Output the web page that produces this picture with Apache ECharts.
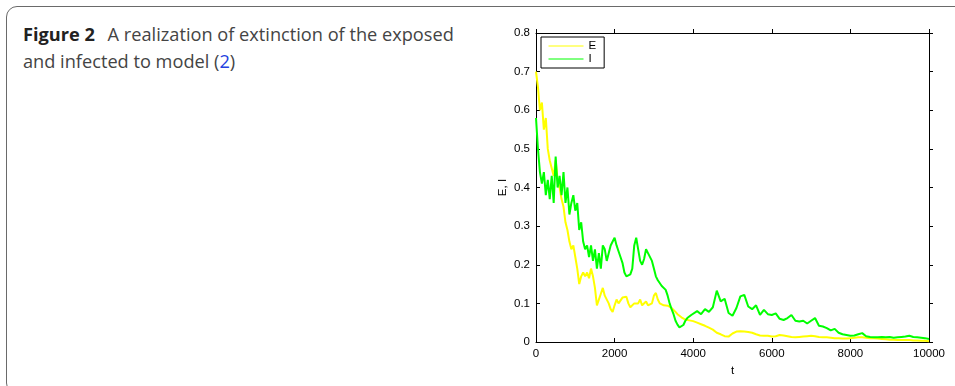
<!DOCTYPE html>
<html>
<head>
<meta charset="utf-8">
<script src="https://cdn.jsdelivr.net/npm/echarts@6/dist/echarts.min.js"></script>
<style>
    html, body { margin: 0; padding: 0; background: #fff; overflow: hidden; }
    #wrap { position: relative; width: 955px; height: 386px; overflow: hidden; }
    #frame {
        position: absolute; left: 6px; top: 6px; width: 1000px; height: 388px;
        border: 1.5px solid #6a6a6a; border-radius: 11px; box-sizing: border-box;
    }
    #caption {
        position: absolute; left: 23px; top: 21px; width: 450px;
        font-family: "Open Sans", sans-serif; font-size: 18.2px; line-height: 27px;
        color: #444; font-weight: 400;
    }
    #caption b { color: #222; font-weight: 700; margin-right: 8px; }
    #caption a { color: #2441e0; text-decoration: none; }
    #chart { position: absolute; left: 0; top: 0; width: 955px; height: 386px; }
</style>
</head>
<body>
<div id="wrap">
    <div id="frame"></div>
    <div id="caption"><b>Figure 2</b> A realization of extinction of the exposed<br>and infected to model (<a>2</a>)</div>
    <div id="chart"></div>
</div>
<script>
// 时间点
var tValues = [
    0, 50, 100, 150, 200, 250, 300, 350, 400, 450,
    500, 550, 600, 650, 700, 750, 800, 850, 900, 950,
    1000, 1050, 1100, 1150, 1200, 1250, 1300, 1350, 1400, 1450,
    1500, 1550, 1600, 1650, 1700, 1750, 1800, 1850, 1900, 1950,
    2000, 2050, 2100, 2150, 2200, 2250, 2300, 2350, 2400, 2450,
    2500, 2550, 2600, 2650, 2700, 2750, 2800, 2850, 2900, 2950,
    3000, 3050, 3100, 3150, 3200, 3250, 3300, 3350, 3400, 3450,
    3500, 3550, 3600, 3650, 3700, 3750, 3800, 3850, 3900, 3950,
    4000, 4100, 4200, 4300, 4400, 4500, 4600, 4700, 4800, 4900,
    5000, 5100, 5200, 5300, 5400, 5500, 5600, 5700, 5800, 5900,
    6000, 6100, 6200, 6300, 6400, 6500, 6600, 6700, 6800, 6900,
    7000, 7100, 7200, 7300, 7400, 7500, 7600, 7700, 7800, 7900,
    8000, 8100, 8200, 8300, 8400, 8500, 8600, 8700, 8800, 8900,
    9000, 9100, 9200, 9300, 9400, 9500, 9600, 9700, 9800, 9900,
    10000
];
// E (exposed)
var eValues = [
    0.70, 0.66, 0.60, 0.62, 0.55, 0.58, 0.50, 0.47, 0.45, 0.43,
    0.47, 0.42, 0.40, 0.37, 0.35, 0.31, 0.29, 0.26, 0.24, 0.25,
    0.22, 0.19, 0.15, 0.17, 0.18, 0.17, 0.18, 0.165, 0.19, 0.17,
    0.14, 0.095, 0.10, 0.125, 0.14, 0.12, 0.115, 0.10, 0.085, 0.078,
    0.095, 0.11, 0.10, 0.105, 0.115, 0.11, 0.117, 0.10, 0.09, 0.085,
    0.10, 0.105, 0.10, 0.11, 0.095, 0.10, 0.105, 0.095, 0.09, 0.10,
    0.12, 0.127, 0.11, 0.10, 0.098, 0.095, 0.10, 0.094, 0.09, 0.088,
    0.085, 0.078, 0.072, 0.068, 0.064, 0.06, 0.058, 0.057, 0.056, 0.055,
    0.054, 0.050, 0.046, 0.042, 0.037, 0.032, 0.024, 0.020, 0.015, 0.014,
    0.022, 0.027, 0.028, 0.027, 0.026, 0.024, 0.020, 0.017, 0.016, 0.016,
    0.014, 0.015, 0.018, 0.017, 0.015, 0.013, 0.012, 0.013, 0.014, 0.015,
    0.016, 0.015, 0.013, 0.012, 0.012, 0.011, 0.010, 0.010, 0.009, 0.009,
    0.010, 0.011, 0.012, 0.012, 0.011, 0.010, 0.010, 0.009, 0.008, 0.007,
    0.006, 0.006, 0.005, 0.005, 0.005, 0.005, 0.004, 0.004, 0.003, 0.003,
    0.002
];
// I (infected)
var iValues = [
    0.58, 0.50, 0.44, 0.41, 0.44, 0.38, 0.42, 0.37, 0.43, 0.36,
    0.48, 0.40, 0.43, 0.38, 0.44, 0.36, 0.40, 0.33, 0.36, 0.38,
    0.34, 0.36, 0.29, 0.31, 0.26, 0.24, 0.25, 0.22, 0.25, 0.21,
    0.24, 0.19, 0.23, 0.19, 0.25, 0.24, 0.21, 0.23, 0.25, 0.26,
    0.27, 0.25, 0.235, 0.22, 0.205, 0.18, 0.17, 0.168, 0.175, 0.19,
    0.25, 0.27, 0.24, 0.21, 0.20, 0.215, 0.24, 0.23, 0.235, 0.21,
    0.19, 0.17, 0.16, 0.155, 0.145, 0.14, 0.135, 0.12, 0.10, 0.085,
    0.072, 0.055, 0.045, 0.038, 0.040, 0.044, 0.055, 0.062, 0.065, 0.070,
    0.072, 0.080, 0.072, 0.085, 0.078, 0.090, 0.133, 0.105, 0.112, 0.075,
    0.068, 0.088, 0.118, 0.122, 0.092, 0.085, 0.095, 0.070, 0.083, 0.072,
    0.070, 0.074, 0.060, 0.057, 0.062, 0.070, 0.055, 0.053, 0.055, 0.048,
    0.055, 0.062, 0.042, 0.040, 0.036, 0.030, 0.034, 0.024, 0.020, 0.018,
    0.016, 0.017, 0.020, 0.023, 0.015, 0.013, 0.012, 0.012, 0.013, 0.012,
    0.013, 0.011, 0.012, 0.013, 0.014, 0.016, 0.013, 0.012, 0.011, 0.010,
    0.008
];
var seriesNames = ['E', 'I'];
var seriesColors = ['#ffff00', '#00ff00'];

initChart();

function pairs(xs, ys) {
    var out = [];
    for (var k = 0; k < xs.length; k++) {
        out.push([xs[k], ys[k]]);
    }
    return out;
}

// 坐标轴（四边都有刻度）
function makeAxis(pos, min, max, interval, showLabel, tickInside, extra) {
    var font = '"Liberation Sans", Arial, sans-serif';
    var ax = {
        type: 'value', position: pos, min: min, max: max, interval: interval,
        axisLine: { show: true, onZero: false, lineStyle: { color: '#000', width: 1 } },
        axisTick: { show: true, inside: tickInside, length: 4, lineStyle: { color: '#000', width: 1 } },
        splitLine: { show: false },
        axisLabel: {
            show: showLabel, color: '#000', fontSize: 11.5, fontFamily: font, margin: 6,
            formatter: function(v) { return String(v); }
        }
    };
    return Object.assign(ax, extra || {});
}

function initChart() {
    var chart = echarts.init(document.getElementById('chart'));
    var font = '"Liberation Sans", Arial, sans-serif';
    var option = {
        animation: false,
        color: seriesColors,
        grid: { left: 536, top: 33, width: 393, height: 309, show: false },
        legend: {
            orient: 'vertical',
            left: 541,
            top: 37,
            itemWidth: 35,
            itemHeight: 14,
            itemGap: 1,
            padding: [3, 8, 3, 7],
            backgroundColor: '#fff',
            borderColor: '#000',
            borderWidth: 1,
            borderRadius: 0,
            itemStyle: { opacity: 0 },
            lineStyle: { width: 1 },
            textStyle: { color: '#000', fontSize: 11.5, fontFamily: font },
            data: seriesNames
        },
        xAxis: [
            makeAxis('bottom', 0, 10000, 2000, true, true, {
                name: 't', nameLocation: 'middle', nameGap: 21,
                nameTextStyle: { color: '#000', fontSize: 11.5, fontFamily: font }
            }),
            makeAxis('top', 0, 10000, 2000, false, false)
        ],
        yAxis: [
            makeAxis('left', 0, 0.8, 0.1, true, true, {
                name: 'E, I', nameLocation: 'middle', nameGap: 27,
                nameTextStyle: { color: '#000', fontSize: 11.5, fontFamily: font }
            }),
            makeAxis('right', 0, 0.8, 0.1, false, false)
        ],
        series: [
            {
                name: seriesNames[0], type: 'line', symbol: 'none', z: 2,
                lineStyle: { width: 2, color: seriesColors[0] },
                data: pairs(tValues, eValues)
            },
            {
                name: seriesNames[1], type: 'line', symbol: 'none', z: 3,
                lineStyle: { width: 2, color: seriesColors[1] },
                data: pairs(tValues, iValues)
            }
        ]
    };
    chart.setOption(option);
}
</script>
</body>
</html>
